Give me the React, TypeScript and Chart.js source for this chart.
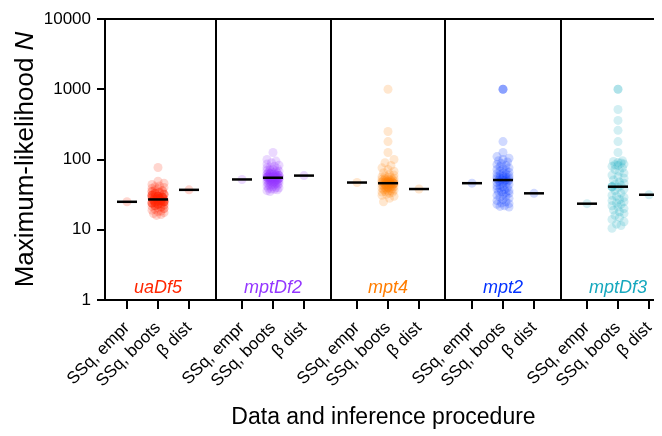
import React, { useEffect, useRef } from "react";
import { Chart, registerables } from "chart.js";

Chart.register(...registerables);

// ---------- data ----------
const GROUPS = ["uaDf5", "mptDf2", "mpt4", "mpt2", "mptDf3"];
const CATEGORIES = ["SSq, empr", "SSq, boots", "β dist"];
const Y_TICKS = [1, 10, 100, 1000, 10000];
const SSQ_EMPR = [25, 52, 47, 46, 23.5];
const BETA_DIST = [37, 59, 38, 33, 31.5];

const BOOTS_UADF5 = [
  77, 49, 46, 44, 42, 41, 40, 39, 38, 37, 36, 36, 35, 35, 34, 34, 33, 33, 33, 32,
  32, 32, 31, 31, 31, 31, 30, 30, 30, 30, 30, 29.5, 29.5, 29, 29, 29, 29, 29, 28.5, 28.5,
  28, 28, 28, 28, 28, 27.5, 27.5, 27.5, 27.5, 27, 27, 26.5, 26.5, 26.5, 26.5, 26, 26, 26, 26, 26,
  25.5, 25.5, 25.5, 25, 25, 25, 25, 25, 24.5, 24.5, 24.5, 24, 24, 24, 24, 23.5, 23.5, 23, 23, 23,
  23, 22.5, 22.5, 22, 22, 22, 21.5, 21, 21, 20.5, 20, 20, 19.5, 19, 18.5, 18, 17.5, 17, 16.5, 16,
];
const BOOTS_MPTDF2 = [
  126, 100, 95, 90, 86, 83, 80, 78, 76, 74, 72, 71, 70, 69, 68, 67, 66, 65, 64, 63,
  63, 62, 62, 61, 61, 60, 60, 59, 59, 59, 58, 58, 58, 57.5, 57, 57, 57, 56.5, 56, 56,
  56, 55.5, 55.5, 55.5, 55, 54.5, 54.5, 54, 54, 54, 53.5, 53, 53, 53, 52.5, 52, 52, 51.5, 51, 51,
  50.5, 50, 50, 49.5, 49, 48.5, 48, 48, 47.5, 47, 46.5, 46, 45.5, 45, 44.5, 44, 43.5, 43, 42, 41.5,
  41, 40, 39.5, 39, 38, 37.5, 37, 36, 35,
];
const BOOTS_MPT4 = [
  1000, 250, 180, 126, 100, 90, 82, 76, 72, 68, 65, 62, 60, 58, 57, 56, 55, 54, 53, 52.5,
  52, 51.5, 51, 50.5, 50, 49.5, 49, 49, 48.5, 48, 48, 47.5, 47.5, 47, 47, 47, 46.5, 46.5, 46.5, 46,
  45.5, 45.5, 45.5, 45, 45, 45, 44.5, 44.5, 44, 44, 43.5, 43, 43, 42.5, 42, 42, 41.5, 41, 40.5, 40,
  40, 39.5, 39, 38.5, 38, 37.5, 37, 36.5, 36, 35.5, 35, 34.5, 34, 33, 32, 31, 30, 28, 25,
];
const BOOTS_MPT2 = [
  1000, 1000, 1000, 180, 126, 110, 104, 100, 96, 92, 88, 85, 82, 79, 76, 74, 72, 70, 68, 66,
  64, 63, 62, 60, 59, 58, 57, 56, 55, 54.5, 54, 53, 52, 51.5, 51, 50.5, 50, 49, 48, 47,
  46, 45, 44, 43, 42, 41, 40, 39, 38, 37, 36, 35, 34.5, 34, 33, 32, 31, 30, 29, 28,
  27, 26, 25, 24, 23.5, 23, 22, 21.5, 21,
];
const BOOTS_MPTDF3 = [
  1000, 1000, 515, 360, 260, 180, 126, 96, 94, 91, 89, 86, 84, 82, 80, 76, 72, 68, 64, 60,
  57, 54, 51, 48, 46, 44, 43, 41, 41, 41, 40, 38, 36, 33, 31, 30, 29, 27, 26, 25,
  24, 23, 22, 21, 20, 19, 18, 17, 16, 15, 14, 13, 12, 11.5, 10.5,
];
const BOOTS = [BOOTS_UADF5, BOOTS_MPTDF2, BOOTS_MPT4, BOOTS_MPT2, BOOTS_MPTDF3];

const Y_TITLE_MAIN = "Maximum-likelihood ";
const Y_TITLE_VAR = "N";
const X_TITLE = "Data and inference procedure";

// ---------- styles / layout ----------
const GROUP_RGB = ["255,38,0", "148,55,255", "255,125,0", "4,51,255", "22,168,190"];
const POINT_ALPHA = 0.19;
const FONT = "'Liberation Sans', Arial, Helvetica, sans-serif";
const W = 654;
const H = 428;
const CAT_PX = 31;
const GROUP_STEP = 115 / CAT_PX;
const PLOT_LEFT = 97;
const PLOT_TOP = 11;
const PLOT_BOTTOM = 292;
const X_MIN = -22 / CAT_PX;
const X_MAX = X_MIN + (W - PLOT_LEFT) / CAT_PX;
const PX_PER_DECADE = (PLOT_BOTTOM - PLOT_TOP) / 4;
const POINT_R = 4.5;

function median(a: number[]): number {
  const s = [...a].sort((p, q) => p - q);
  const n = s.length;
  return n % 2 ? s[(n - 1) / 2] : (s[n / 2 - 1] + s[n / 2]) / 2;
}

// simple deterministic beeswarm (identical values share one position)
function swarmOffsets(values: number[], r: number, step: number, maxOff: number): number[] {
  const order = values.map((_, i) => i).sort((a, b) => values[b] - values[a]);
  const cand: number[] = [0];
  for (let k = step; k <= maxOff + 1e-9; k += step) cand.push(k, -k);
  const placed: { x: number; y: number }[] = [];
  const byValue = new Map<number, number>();
  const out = new Array(values.length).fill(0);
  const minD = 2 * r;
  let n = 0;
  order.forEach((idx) => {
    const v = values[idx];
    if (byValue.has(v)) {
      out[idx] = byValue.get(v) as number;
      return;
    }
    const y = Math.log10(v) * PX_PER_DECADE;
    let best = 0;
    let bestScore = -Infinity;
    for (const c0 of cand) {
      const c = n % 2 ? -c0 : c0;
      let dmin = Infinity;
      for (const p of placed) {
        const d = Math.hypot(p.x - c, p.y - y);
        if (d < dmin) dmin = d;
      }
      if (dmin >= minD) {
        best = c;
        break;
      }
      if (dmin > bestScore) {
        bestScore = dmin;
        best = c;
      }
    }
    n++;
    placed.push({ x: best, y });
    byValue.set(v, best);
    out[idx] = best;
  });
  return out;
}

const catX = (g: number, i: number) => g * GROUP_STEP + i;

const panelLabelPlugin = {
  id: "panelLabels",
  afterDraw(chart: any) {
    const ctx = chart.ctx;
    const xs = chart.scales.x;
    const { bottom, top } = chart.chartArea;
    ctx.save();
    ctx.font = `italic 18px ${FONT}`;
    ctx.textAlign = "center";
    ctx.textBaseline = "alphabetic";
    GROUPS.forEach((g, gi) => {
      ctx.fillStyle = `rgb(${GROUP_RGB[gi]})`;
      ctx.fillText(g, xs.getPixelForValue(catX(gi, 1)), bottom - 7);
    });
    // y-axis title with italic variable
    const cy = (top + bottom) / 2;
    ctx.translate(25, cy);
    ctx.rotate(-Math.PI / 2);
    const normal = `26px ${FONT}`;
    const ital = `italic 26px ${FONT}`;
    ctx.font = normal;
    const w1 = ctx.measureText(Y_TITLE_MAIN).width;
    ctx.font = ital;
    const w2 = ctx.measureText(Y_TITLE_VAR).width;
    const x0 = -(w1 + w2) / 2;
    ctx.fillStyle = "#000";
    ctx.textAlign = "left";
    ctx.font = normal;
    ctx.fillText(Y_TITLE_MAIN, x0, 0);
    ctx.font = ital;
    ctx.fillText(Y_TITLE_VAR, x0 + w1, 0);
    ctx.restore();
  },
};

export default function App() {
  const ref = useRef<HTMLCanvasElement | null>(null);
  useEffect(() => {
    if (!ref.current) return;
    const lineData: { x: number; y: number }[] = [];
    const pointSets: any[] = [];
    GROUPS.forEach((g, gi) => {
      const boots = BOOTS[gi];
      lineData.push({ x: catX(gi, 0), y: SSQ_EMPR[gi] });
      lineData.push({ x: catX(gi, 1), y: median(boots) });
      lineData.push({ x: catX(gi, 2), y: BETA_DIST[gi] });
      const offs = swarmOffsets(boots, POINT_R, 1.5, 6);
      const pts = boots.map((v, k) => ({ x: catX(gi, 1) + offs[k] / CAT_PX, y: v }));
      pts.push({ x: catX(gi, 0), y: SSQ_EMPR[gi] });
      pts.push({ x: catX(gi, 2), y: BETA_DIST[gi] });
      pointSets.push({
        label: g,
        data: pts,
        backgroundColor: `rgba(${GROUP_RGB[gi]},${POINT_ALPHA})`,
        borderWidth: 0,
        pointRadius: POINT_R,
        order: 1,
      });
    });
    const tickPositions: number[] = [];
    GROUPS.forEach((_, gi) => CATEGORIES.forEach((_, i) => tickPositions.push(catX(gi, i))));
    const boundaries: number[] = [];
    for (let gi = 0; gi < GROUPS.length - 1; gi++) boundaries.push((catX(gi, 2) + catX(gi + 1, 0)) / 2);

    const chart = new Chart(ref.current, {
      type: "scatter",
      data: {
        datasets: [
          {
            label: "lines",
            data: lineData,
            pointStyle: "line",
            pointRadius: 10,
            borderColor: "#000",
            backgroundColor: "#000",
            borderWidth: 2.5,
            order: 0,
          } as any,
          ...pointSets,
        ],
      },
      options: {
        animation: false,
        responsive: false,
        events: [],
        layout: { padding: 0, autoPadding: false },
        plugins: { legend: { display: false }, tooltip: { enabled: false } },
        scales: {
          x: {
            type: "linear",
            position: "bottom",
            min: X_MIN,
            max: X_MAX,
            afterBuildTicks: (s: any) => {
              s.ticks = tickPositions.map((v) => ({ value: v }));
            },
            afterFit: (s: any) => {
              s.height = H - PLOT_BOTTOM;
              s.paddingLeft = 0;
              s.paddingRight = 0;
            },
            ticks: {
              autoSkip: false,
              minRotation: 45,
              maxRotation: 45,
              padding: 9,
              color: "#000",
              font: { family: FONT, size: 17 },
              callback: (_v: any, i: number) => CATEGORIES[i % 3],
            },
            grid: { drawOnChartArea: false, color: "#000", lineWidth: 2, tickLength: 9 },
            border: { color: "#000", width: 2 },
            title: {
              display: true,
              text: X_TITLE,
              color: "#000",
              font: { family: FONT, size: 23 },
              padding: { top: 4, bottom: 5 },
            },
          },
          x2: {
            type: "linear",
            position: "top",
            min: X_MIN,
            max: X_MAX,
            afterBuildTicks: (s: any) => {
              s.ticks = boundaries.map((v) => ({ value: v }));
            },
            afterFit: (s: any) => {
              s.height = PLOT_TOP;
              s.paddingLeft = 0;
              s.paddingRight = 0;
            },
            ticks: { display: false },
            grid: { drawOnChartArea: true, drawTicks: false, color: "#000", lineWidth: 2 },
            border: { display: true, color: "#000", width: 2 },
          },
          y: {
            type: "logarithmic",
            min: 1,
            max: 10000,
            afterBuildTicks: (s: any) => {
              s.ticks = Y_TICKS.map((v) => ({ value: v }));
            },
            afterFit: (s: any) => {
              s.width = PLOT_LEFT;
              s.paddingTop = 0;
              s.paddingBottom = 0;
            },
            ticks: {
              padding: 6,
              color: "#000",
              font: { family: FONT, size: 17 },
              callback: (v: any) => String(v),
            },
            grid: { drawOnChartArea: false, color: "#000", lineWidth: 2, tickLength: 8 },
            border: { color: "#000", width: 2 },
          },
        },
      } as any,
      plugins: [panelLabelPlugin],
    });
    return () => chart.destroy();
  }, []);
  return (
    <div style={{ width: W, height: H }}>
      <canvas ref={ref} width={W} height={H} style={{ display: "block" }} />
    </div>
  );
}
